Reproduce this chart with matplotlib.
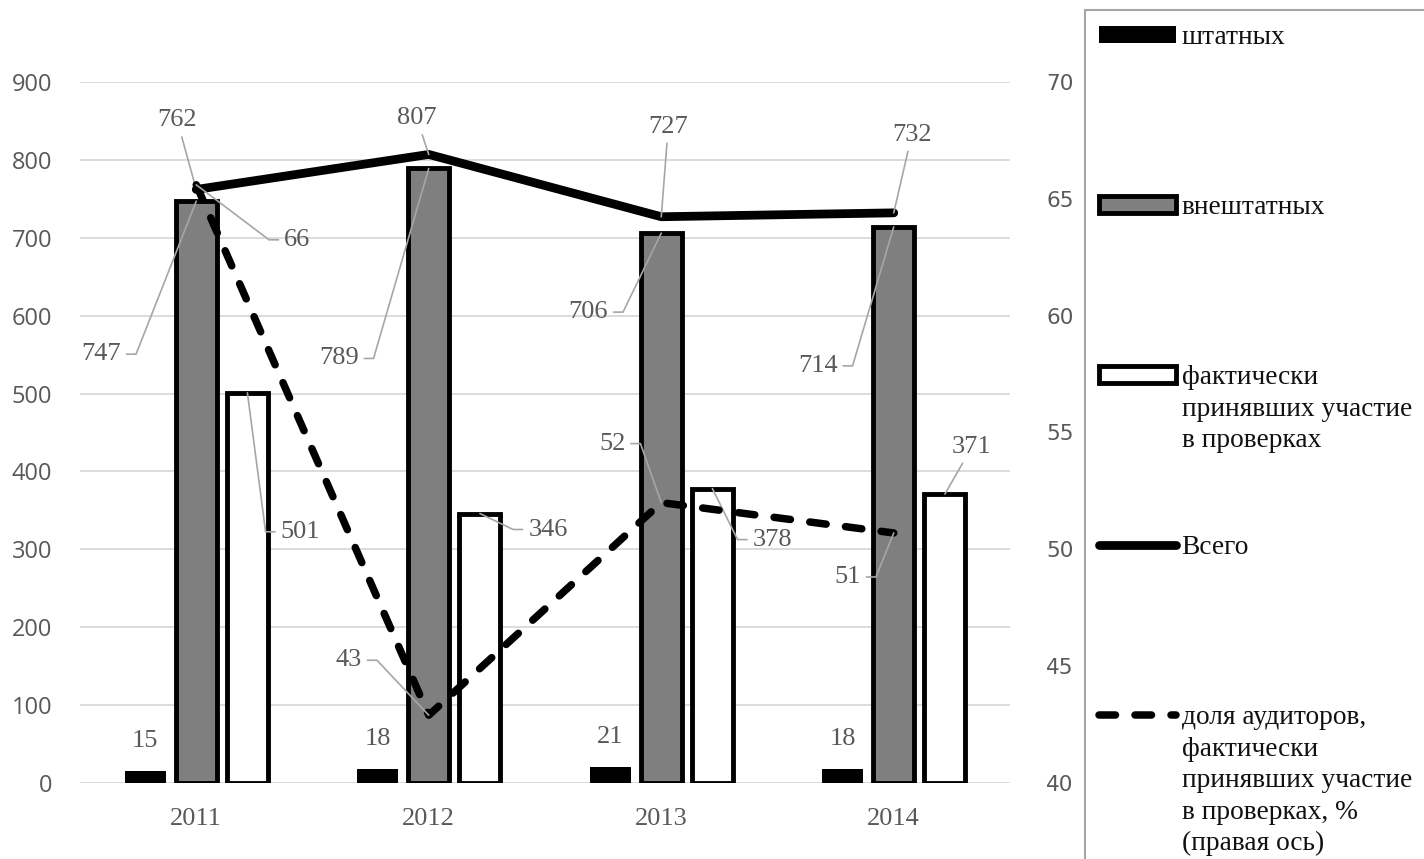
import math
import matplotlib.pyplot as plt
from matplotlib.patches import Rectangle

plt.rcParams['font.family'] = ['Liberation Serif', 'DejaVu Serif']

# данные
years = ['2011', '2012', '2013', '2014']
staff = [15, 18, 21, 18]            # штатных
freelance = [747, 789, 706, 714]    # внештатных
active = [501, 346, 378, 371]       # фактически принявших участие
total = [762, 807, 727, 732]        # всего
share = [65.6, 42.9, 52.0, 50.7]    # доля, % (правая ось)

# подписи: смещение текста от точки в пикселях (dx, dy вверх), сторона выноски
off_staff = [(0, 30)] * 4
off_free = [(-95, -153, 1), (-90, -190, 1), (-73, -79, 1), (-76, -139, 1)]
off_active = [(53, -139, -1), (68, -16, -1), (60, -51, -1), (27, 47, 0)]
off_total = [(-19, 69, 0), (-12, 36, 0), (7, 90, 0), (18, 78, 0)]
off_share = [(101, -55, -1), (-80, 55, 1), (-49, 59, 1), (-46, -44, 1)]

label_color = '#595959'
leader_color = '#a6a6a6'
fs = 19
fs_leg = 19.7

fig = plt.figure(figsize=(14.24, 8.59), dpi=100)
ax = fig.add_axes([80 / 1424, 76 / 859, 930 / 1424, 701 / 859])
x = list(range(len(years)))
w = 0.176
shift = 0.22

b1 = ax.bar([i - shift for i in x], staff, w, color='black', linewidth=0, label='штатных', zorder=2)
b2 = ax.bar(x, freelance, w, color='#7f7f7f', edgecolor='black', linewidth=3.5, label='внештатных', zorder=2)
b3 = ax.bar([i + shift for i in x], active, w, color='white', edgecolor='black', linewidth=3.5,
            label='фактически', zorder=2)
l1, = ax.plot(x, total, color='black', lw=6.3, solid_capstyle='round', solid_joinstyle='round',
              label='Всего', zorder=3)

ax.set_xlim(-0.5, 3.5)
ax.set_ylim(0, 900)
ax.set_yticks(range(0, 901, 100))
ax.set_xticks(x)
ax.set_xticklabels(years)
ax.grid(axis='y', color='#d9d9d9', lw=1.3)
ax.set_axisbelow(True)
for s in ax.spines.values():
    s.set_visible(False)
ax.tick_params(axis='y', length=0, pad=20, labelsize=17, labelcolor=label_color, labelfontfamily='Open Sans')
ax.tick_params(axis='x', length=0, pad=18, labelsize=fs, labelcolor=label_color)

ax2 = ax.twinx()
l2, = ax2.plot(x, share, color='black', lw=5.4, linestyle=(0, (2.2, 2.6)), dash_capstyle='round',
               label='доля аудиторов,', zorder=3)
ax2.set_ylim(40, 70)
ax2.set_yticks(range(40, 71, 5))
for s in ax2.spines.values():
    s.set_visible(False)
ax2.tick_params(axis='y', length=0, pad=26, labelsize=15.5, labelcolor=label_color,
                labelfontfamily='DejaVu Sans')


def put_label(axis, xv, yv, text, off):
    dx, dy = off[0], off[1]
    side = off[2] if len(off) > 2 else None
    if side is None:
        axis.annotate(text, (xv, yv), xytext=(dx, dy), textcoords='offset pixels',
                      ha='center', va='center', fontsize=fs, color=label_color)
        return
    if side == 0:
        conn = 'arc3,rad=0'
    else:
        hw = len(text) * 6.6
        cx = dx + side * (hw + 15)
        conn = 'angle,angleA=0,angleB=%.2f,rad=0' % math.degrees(math.atan2(dy, cx))
    axis.annotate(text, (xv, yv), xytext=(dx, dy), textcoords='offset pixels',
                  ha='center', va='center', fontsize=fs, color=label_color,
                  arrowprops=dict(arrowstyle='-', color=leader_color, lw=1.2,
                                  connectionstyle=conn, shrinkA=2, shrinkB=0))


for i in x:
    put_label(ax, i - shift, staff[i], str(staff[i]), off_staff[i])
    put_label(ax, i, freelance[i], str(freelance[i]), off_free[i])
    put_label(ax, i + shift, active[i], str(active[i]), off_active[i])
    put_label(ax, i, total[i], str(total[i]), off_total[i])
    put_label(ax2, i, share[i], '%.0f' % share[i], off_share[i])

# легенда справа
fig.add_artist(Rectangle((1085 / 1424, -0.1), 1, 1 - 10 / 859 + 0.1, transform=fig.transFigure,
                         fill=False, edgecolor='#a6a6a6', lw=1.5, clip_on=False))
leg = fig.legend([b1, b2, b3, l1, l2], ['штатных', 'внештатных', 'фактически', 'Всего', 'доля аудиторов,'],
                 loc='upper left', bbox_to_anchor=(1099 / 1424, 1 - 25 / 859), frameon=False,
                 borderpad=0, borderaxespad=0, handlelength=2.8, handleheight=0.55,
                 handletextpad=0.22, labelspacing=5.3, fontsize=fs_leg, labelcolor='#111111')

more_lines = {2: ['принявших участие', 'в проверках'],
              4: ['фактически', 'принявших участие', 'в проверках, %', '(правая ось)']}
fig.canvas.draw()
texts = leg.get_texts()
for k, lines in more_lines.items():
    bb = texts[k].get_window_extent()
    yc = (bb.y0 + bb.y1) / 2
    for j, s in enumerate(lines):
        fig.text(bb.x0 / 1424, (yc - (j + 1) * 31.5) / 859, s, ha='left', va='center',
                 fontsize=fs_leg, color='#111111')

fig.savefig('out.png', dpi=100)
